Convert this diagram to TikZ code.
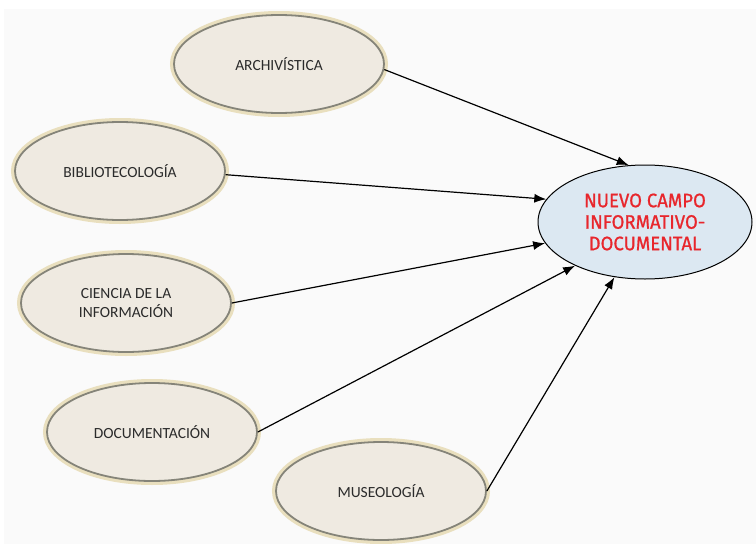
\documentclass[tikz,border=0pt]{standalone}
\usepackage{fontspec}
\setmainfont{Carlito}
\newfontfamily\titlefont[FakeStretch=0.95,FakeBold=0.9]{Fira Sans}
\usetikzlibrary{shapes.geometric,arrows.meta}
\definecolor{pagebg}{HTML}{FAFAFA}
\definecolor{stonefill}{HTML}{EFEAE1}
\definecolor{stonerim}{HTML}{E9DFBE}
\definecolor{stoneline}{HTML}{858479}
\definecolor{skyfill}{HTML}{DCE8F2}
\definecolor{titlered}{HTML}{E8262C}
\definecolor{inktext}{HTML}{2B2B2B}
\tikzset{
  field/.style={ellipse, minimum width=210pt, minimum height=98pt, inner sep=0pt,
    fill=stonefill, draw=stoneline, line width=1.8pt,
    preaction={draw=stonerim, line width=8pt},
    text=inktext, font=\fontsize{15.5}{19}\selectfont, align=center},
  target/.style={ellipse, minimum width=214pt, minimum height=114pt, inner sep=0pt,
    fill=skyfill, draw=black, line width=1pt,
    text=titlered, font=\titlefont\fontsize{19.5}{21.5}\selectfont, align=center},
  link/.style={line width=1.2pt, -{Latex[length=12pt,width=9pt]}}
}
\begin{document}
\begin{tikzpicture}[x=1pt,y=-1pt]
  \useasboundingbox (0,0) rectangle (756,544);
  \fill[pagebg] (4,9) rectangle (756,544);

  \node[field] (arch) at (279,64) {ARCHIVÍSTICA};
  \node[field] (bibl) at (120,171) {BIBLIOTECOLOGÍA};
  \node[field] (cien) at (126,303) {CIENCIA DE LA\\INFORMACIÓN};
  \node[field] (docu) at (152,432) {DOCUMENTACIÓN};
  \node[field] (muse) at (381,491) {MUSEOLOGÍA};
  \node[target] (nuevo) at (645,222) {NUEVO CAMPO\\INFORMATIVO-\\DOCUMENTAL};

  \draw[link] (arch.-3) -- (nuevo.106);
  \draw[link] (bibl.-2) -- (nuevo.167);
  \draw[link] (cien.east) -- (nuevo.192);
  \draw[link] (docu.east) -- (nuevo.212);
  \draw[link] (muse.east) -- (nuevo.241);
\end{tikzpicture}
\end{document}
